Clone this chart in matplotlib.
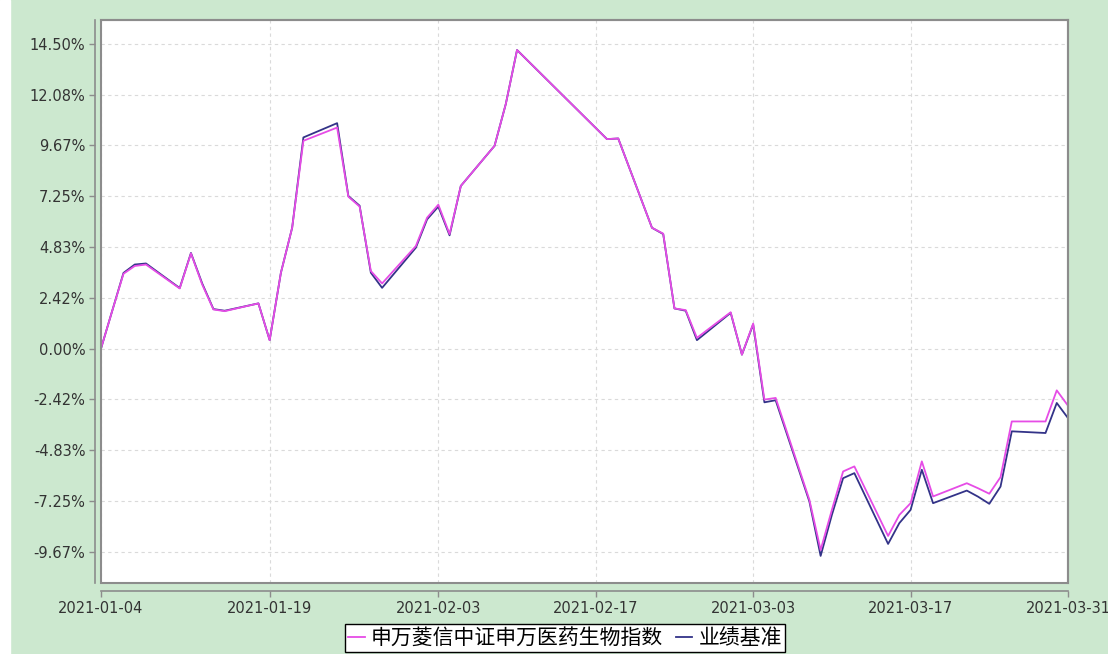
import numpy as np
import matplotlib
matplotlib.use('Agg')
import matplotlib.pyplot as plt
from matplotlib.patches import Rectangle

# trading days, Q1 2021
dates = ['2021-01-04', '2021-01-05', '2021-01-06', '2021-01-07', '2021-01-08',
         '2021-01-11', '2021-01-12', '2021-01-13', '2021-01-14', '2021-01-15',
         '2021-01-18', '2021-01-19', '2021-01-20', '2021-01-21', '2021-01-22',
         '2021-01-25', '2021-01-26', '2021-01-27', '2021-01-28', '2021-01-29',
         '2021-02-01', '2021-02-02', '2021-02-03', '2021-02-04', '2021-02-05',
         '2021-02-08', '2021-02-09', '2021-02-10', '2021-02-18', '2021-02-19',
         '2021-02-22', '2021-02-23', '2021-02-24', '2021-02-25', '2021-02-26',
         '2021-03-01', '2021-03-02', '2021-03-03', '2021-03-04', '2021-03-05',
         '2021-03-08', '2021-03-09', '2021-03-10', '2021-03-11', '2021-03-12',
         '2021-03-15', '2021-03-16', '2021-03-17', '2021-03-18', '2021-03-19',
         '2021-03-22', '2021-03-23', '2021-03-24', '2021-03-25', '2021-03-26',
         '2021-03-29', '2021-03-30', '2021-03-31']

# fund (pink) cumulative return, %
fund = [0.00, 1.80, 3.56, 3.93, 4.00,
        2.86, 4.53, 3.05, 1.86, 1.78,
        2.15, 0.40, 3.61, 5.75, 9.89,
        10.52, 7.23, 6.76, 3.69, 3.10,
        4.88, 6.23, 6.85, 5.45, 7.74,
        9.65, 11.64, 14.21, 9.97, 10.00,
        5.75, 5.47, 1.91, 1.83, 0.51,
        1.73, -0.29, 1.19, -2.43, -2.35,
        -7.20, -9.59, -7.68, -5.85, -5.61,
        -8.92, -7.92, -7.36, -5.37, -7.04,
        -6.41, -6.65, -6.91, -6.12, -3.47,
        -3.47, -1.99, -2.72]

# benchmark (navy) cumulative return, %
bench = [0.00, 1.80, 3.60, 4.00, 4.05,
         2.88, 4.55, 3.10, 1.88, 1.80,
         2.15, 0.40, 3.61, 5.75, 10.05,
         10.73, 7.26, 6.80, 3.61, 2.89,
         4.80, 6.15, 6.76, 5.39, 7.74,
         9.65, 11.64, 14.21, 9.97, 10.00,
         5.75, 5.45, 1.91, 1.80, 0.40,
         1.70, -0.29, 1.15, -2.56, -2.46,
         -7.28, -9.87, -7.92, -6.17, -5.93,
         -9.30, -8.31, -7.68, -5.77, -7.36,
         -6.76, -7.05, -7.39, -6.57, -3.94,
         -4.02, -2.59, -3.31]

x_ticks = ['2021-01-04', '2021-01-19', '2021-02-03', '2021-02-17',
           '2021-03-03', '2021-03-17', '2021-03-31']

fund_name = '申万菱信中证申万医药生物指数'
bench_name = '业绩基准'

W, H = 1108, 654
bg = '#CCE8CF'
gray = '#8C8C8C'

plt.rcParams['font.family'] = ['DejaVu Sans']

fig = plt.figure(figsize=(W / 100, H / 100), dpi=100, facecolor=bg)
fig.add_artist(Rectangle((0, 0), 10 / W, 1, transform=fig.transFigure,
                         color='white', zorder=0))

ax = fig.add_axes([101 / W, 1 - 583 / H, 967 / W, 563 / H])
ax.set_facecolor('white')

x = np.array(dates, dtype='datetime64[D]')
l2, = ax.plot(x, bench, color='#333388', lw=1.3, zorder=3)
l1, = ax.plot(x, fund, color='#E64CE6', lw=1.3, zorder=4)

ax.set_xlim(x[0], x[-1])
ax.set_ylim(-11.16, 15.64)

step = 14.5 / 6
yt = step * np.arange(-4, 7)
ax.set_yticks(yt)
ax.set_yticklabels(['%.2f%%' % v for v in yt])

xt = np.array(x_ticks, dtype='datetime64[D]')
ax.set_xticks(xt)
ax.set_xticklabels(x_ticks)

ax.grid(True, color='#DADADA', linestyle=(0, (3, 3)), lw=0.8)
ax.set_axisbelow(True)

# outer axis lines, offset from the plot box
ax.spines['left'].set_position(('outward', 6 * 0.72))
ax.spines['bottom'].set_position(('outward', 8 * 0.72))
for s in ['left', 'bottom']:
    ax.spines[s].set_color(gray)
    ax.spines[s].set_linewidth(1.2)
for s in ['top', 'right']:
    ax.spines[s].set_color(gray)
    ax.spines[s].set_linewidth(1.5)
ax.add_patch(Rectangle((0, 0), 1, 1, transform=ax.transAxes, fill=False,
                       edgecolor=gray, lw=1.5, clip_on=False, zorder=5))

ax.tick_params(direction='out', length=4, width=1, color=gray,
               labelsize=10.5, labelcolor='#333333', pad=3)

leg = fig.legend([l1, l2], [fund_name, bench_name], loc='upper center',
                 bbox_to_anchor=(565 / W, 1 - 624 / H), ncol=2,
                 frameon=True, fancybox=False, edgecolor='black', framealpha=1,
                 prop={'family': ['Noto Sans CJK SC', 'DejaVu Sans'], 'size': 15},
                 handlelength=0.8, handletextpad=0.3, columnspacing=0.6,
                 borderpad=0.15, borderaxespad=0)
leg.get_frame().set_linewidth(1.0)

fig.savefig('out.png', dpi=100, facecolor=bg)
